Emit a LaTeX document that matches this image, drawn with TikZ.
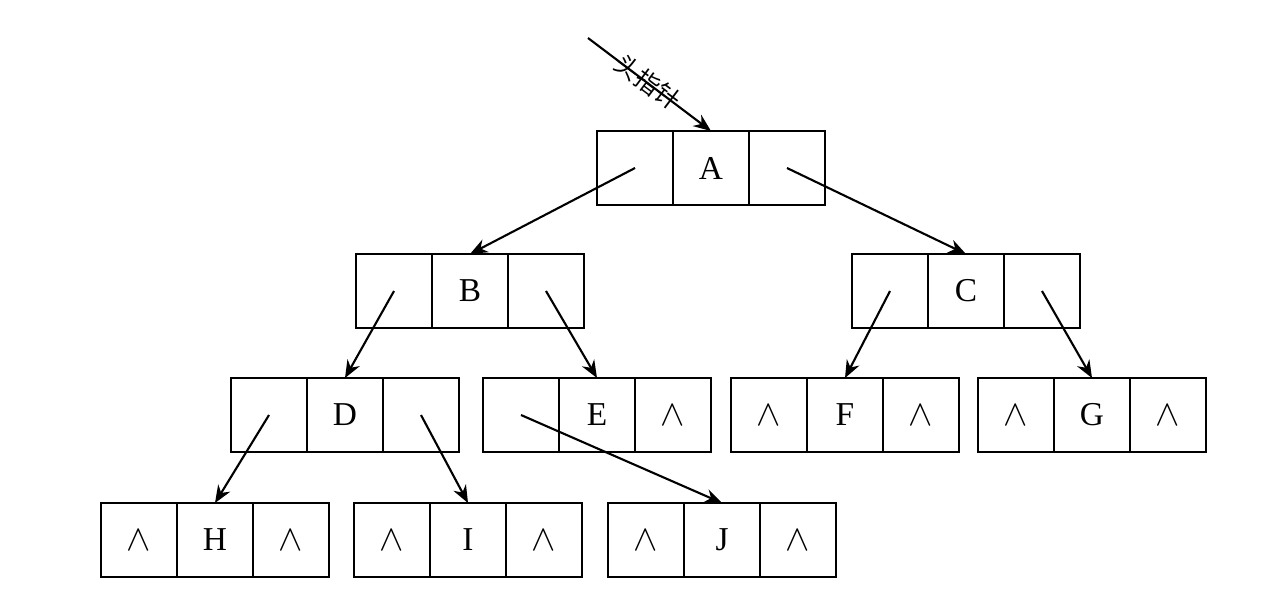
\documentclass[tikz,border=0pt]{standalone}
\usepackage{fontspec}
\setmainfont{Liberation Serif}
\newfontfamily\cjk{Noto Sans CJK SC}
\usetikzlibrary{arrows.meta}
\tikzset{
  cell/.style={draw, line width=1.2pt, minimum width=1.52cm, minimum height=1.48cm, inner sep=0pt, outer sep=0pt, font=\fontsize{19}{22}\selectfont},
  link/.style={line width=1.2pt, -{Stealth[length=10pt,width=8pt]}},
}
\newcommand\nul{\fontsize{22}{24}\selectfont$\wedge$}
\newcommand\treenode[6]{%
  \node[cell] (#1) at (#2,#3) {#5};
  \node[cell,anchor=east] (#1l) at (#1.west) {#4};
  \node[cell,anchor=west] (#1r) at (#1.east) {#6};
}
\begin{document}
\begin{tikzpicture}[x=0.02cm,y=-0.02cm]
\useasboundingbox (0,0) rectangle (1284,600);
\treenode{A}{711}{168}{}{A}{}
\treenode{B}{470}{291}{}{B}{}
\treenode{C}{966}{291}{}{C}{}
\treenode{D}{345}{415}{}{D}{}
\treenode{E}{597}{415}{}{E}{\nul}
\treenode{F}{845}{415}{\nul}{F}{\nul}
\treenode{G}{1092}{415}{\nul}{G}{\nul}
\treenode{H}{215}{540}{\nul}{H}{\nul}
\treenode{I}{468}{540}{\nul}{I}{\nul}
\treenode{J}{722}{540}{\nul}{J}{\nul}
\coordinate (hp) at (588,38);
\draw[link] (hp) -- (A.north);
\node[rotate=-37, inner sep=0pt, font=\cjk\fontsize{14}{15}\selectfont] (hplabel) at (648,82) {头指针};
\draw[link] (Al.center) -- (B.north);
\draw[link] (Ar.center) -- (C.north);
\draw[link] (Bl.center) -- (D.north);
\draw[link] (Br.center) -- (E.north);
\draw[link] (Cl.center) -- (F.north);
\draw[link] (Cr.center) -- (G.north);
\draw[link] (Dl.center) -- (H.north);
\draw[link] (Dr.center) -- (I.north);
\draw[link] (El.center) -- (J.north);
\end{tikzpicture}
\end{document}
